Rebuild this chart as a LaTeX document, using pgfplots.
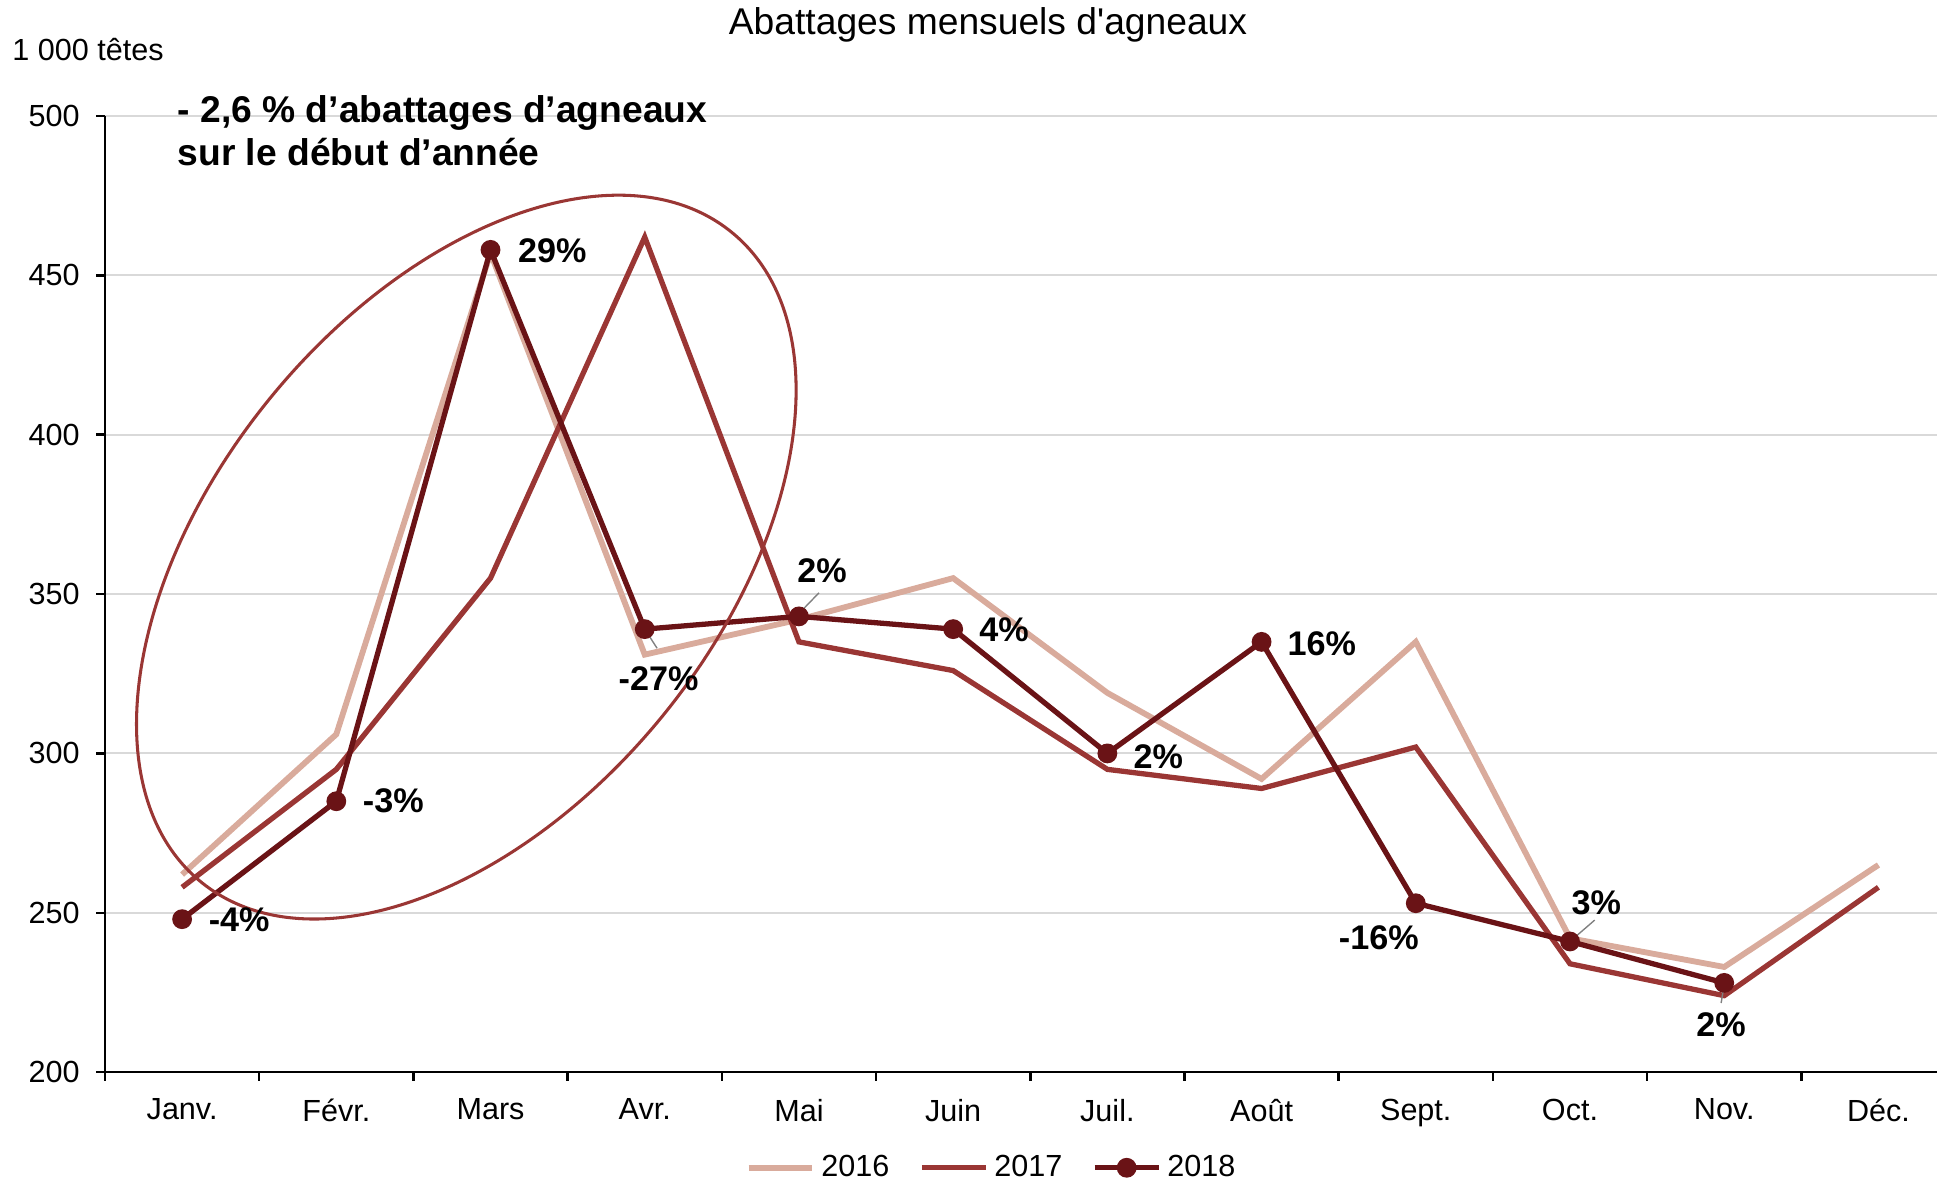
\documentclass[border=0pt]{standalone}
\usepackage{pgfplots}
\pgfplotsset{compat=1.18}
\usepackage{fontspec}
\setmainfont{Liberation Sans}
\newfontfamily\plainfont{Liberation Sans}[Ligatures=TeXOff]
\usetikzlibrary{calc}

\definecolor{c16}{RGB}{217,171,156}
\definecolor{c17}{RGB}{154,54,52}
\definecolor{c18}{RGB}{106,19,22}
\definecolor{gridgray}{RGB}{217,217,217}

% monthly lamb slaughter, 1000 heads
\pgfplotstableread{
m  v
0  262
1  306
2  457
3  331
4  342
5  355
6  319
7  292
8  335
9  242
10 233
11 265
}\yrA
\pgfplotstableread{
m  v
0  258
1  295
2  355
3  462
4  335
5  326
6  295
7  289
8  302
9  234
10 224
11 258
}\yrB
\pgfplotstableread{
m  v
0  248
1  285
2  458
3  339
4  343
5  339
6  300
7  335
8  253
9  241
10 228
}\yrC

\begin{document}
\begin{tikzpicture}
\begin{axis}[
  name=ax,
  scale only axis,
  width=659.5pt,
  height=344.2pt,
  xmin=-0.5, xmax=11.38,
  ymin=200, ymax=500,
  clip=false,
  axis x line*=bottom,
  axis y line*=left,
  axis line style={black, line width=0.9pt},
  tick align=outside,
  major tick length=3.1pt,
  tick style={black, line width=0.9pt},
  xtick={-0.5,0.5,...,10.5},
  xticklabels={},
  extra x ticks={0,1,...,11},
  extra x tick labels={Janv.,Févr.,Mars,Avr.,Mai,Juin,Juil.,Août,Sept.,Oct.,Nov.,Déc.},
  extra x tick style={major tick length=0pt, xticklabel style={yshift=-6.1pt}},
  ytick={200,250,...,500},
  yticklabel style={xshift=-2.5pt},
  ymajorgrids,
  grid style={gridgray, line width=0.7pt},
  /pgf/number format/assume math mode=true,
  ticklabel style={font=\fontsize{11}{13}\selectfont},
  legend style={at={(0.485,-0.1)}, anchor=center, draw=none, fill=none,
    legend columns=3, font=\fontsize{11}{13}\selectfont,
    nodes={inner xsep=2.2pt},
    /tikz/every even column/.append style={column sep=8.5pt}},
  legend image code/.code={\draw[mark repeat=2,mark phase=2,#1]
    plot coordinates {(0pt,0pt) (11.5pt,0pt) (23pt,0pt)};},
]
\addplot[c16, line width=2.1pt] table[x=m, y=v] {\yrA};
\addlegendentry{2016}
\addplot[c17, line width=1.9pt] table[x=m, y=v] {\yrB};
\addlegendentry{2017}
\addplot[c18, line width=1.9pt, mark=*, mark size=2.6pt] table[x=m, y=v] {\yrC};
\addlegendentry{2018}

\draw[c17, line width=1.1pt, rotate around={50.7:(axis cs:1.843,361.6)}]
  (axis cs:1.843,361.6) ellipse [x radius=151pt, y radius=90.9pt];

\draw[gray, line width=0.5pt] (axis cs:3.0,339) -- (axis cs:3.08,333);
\draw[gray, line width=0.5pt] (axis cs:3.974,342.6) -- (axis cs:4.13,350.4);
\draw[gray, line width=0.5pt] (axis cs:9.0,241) -- (axis cs:9.16,247.7);
\draw[gray, line width=0.5pt] (axis cs:10.0,227.5) -- (axis cs:9.98,221.7);

\begin{scope}[every node/.style={inner sep=0pt, font=\bfseries\fontsize{12.3}{14}\selectfont}]
\node at (axis cs:0.37,247.7) {-4\%};
\node at (axis cs:1.37,285) {-3\%};
\node at (axis cs:2.4,457.8) {29\%};
\node at (axis cs:3.09,323.6) {-27\%};
\node at (axis cs:4.15,357.4) {2\%};
\node at (axis cs:5.33,338.8) {4\%};
\node at (axis cs:6.33,299) {2\%};
\node at (axis cs:7.39,334.5) {16\%};
\node at (axis cs:7.76,242.2) {-16\%};
\node at (axis cs:9.17,253) {3\%};
\node at (axis cs:9.98,215) {2\%};
\end{scope}

\node[anchor=base west, inner sep=0pt, font=\bfseries\fontsize{13.4}{15.6}\selectfont]
  at (axis cs:-0.032,498) {- 2,6 \% d’abattages d’agneaux};
\node[anchor=base west, inner sep=0pt, font=\bfseries\fontsize{13.4}{15.6}\selectfont]
  at (axis cs:-0.032,484.5) {sur le début d’année};

\node[font=\plainfont\fontsize{13.4}{16}\selectfont] at (rel axis cs:0.482,1.095) {Abattages mensuels d'agneaux};
\node[anchor=west, inner sep=0pt, font=\fontsize{11}{13}\selectfont] at (rel axis cs:-0.0508,1.069) {1 000 têtes};
\end{axis}
\pgfresetboundingbox
\path[use as bounding box] ($(ax.south west)+(-37.8pt,-39.24pt)$) rectangle ($(ax.north east)+(0pt,41.76pt)$);
\end{tikzpicture}
\end{document}
